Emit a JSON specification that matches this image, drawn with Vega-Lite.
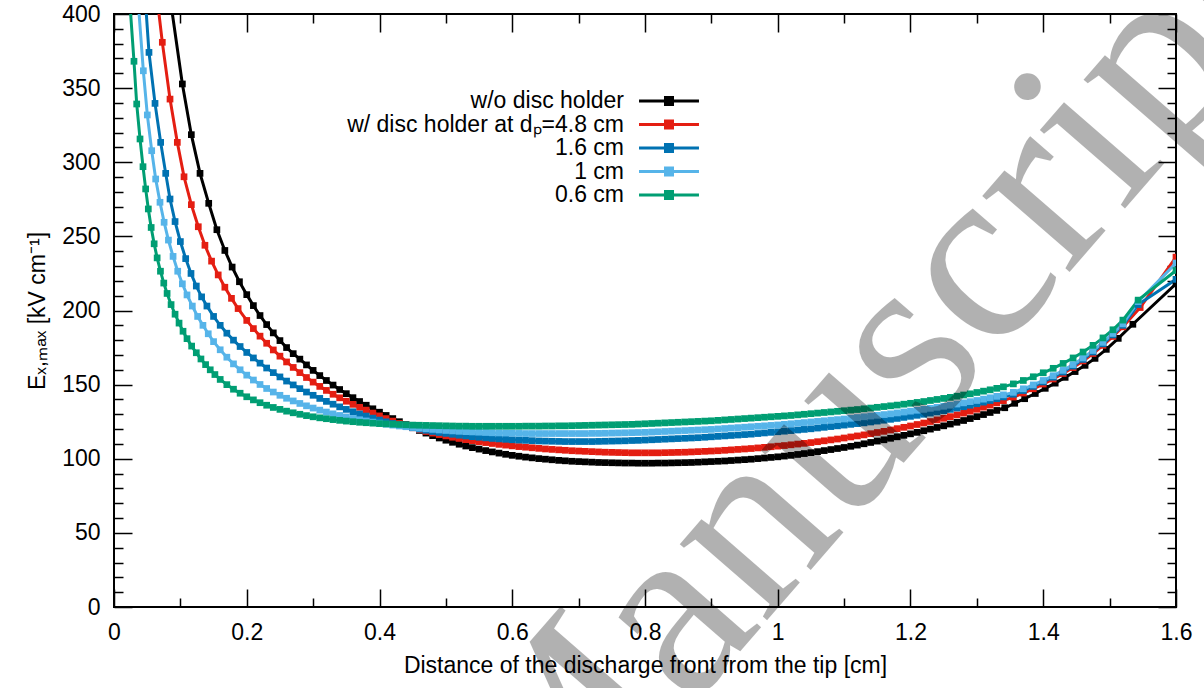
{
"$schema": "https://vega.github.io/schema/vega-lite/v6.json",
"width": 1062,
"height": 593,
"autosize": {"type": "none"},
"padding": {"left": 114, "top": 14, "right": 28, "bottom": 81},
"background": "white",
"config": {
  "view": {"stroke": "#000", "strokeWidth": 2},
  "axis": {"domain": false, "grid": false, "tickColor": "#000", "tickWidth": 1.5, "labelFont": "Liberation Sans", "labelFontSize": 23, "labelColor": "#000", "titleFont": "Liberation Sans", "titleFontSize": 23, "titleFontWeight": "normal", "titleColor": "#000", "labelFlush": false, "labelOverlap": false}
},
"data": {"values": [
{"s":"a","x":0.085,"y":409.4},{"s":"a","x":0.103,"y":352.8},{"s":"a","x":0.1165,"y":318.6},{"s":"a","x":0.1296,"y":292.5},{"s":"a","x":0.1427,"y":272.3},{"s":"a","x":0.155,"y":254.5},{"s":"a","x":0.167,"y":240.5},{"s":"a","x":0.178,"y":229.3},{"s":"a","x":0.189,"y":219.4},{"s":"a","x":0.2,"y":210.7},
{"s":"a","x":0.21,"y":203.3},{"s":"a","x":0.22,"y":196.6},{"s":"a","x":0.23,"y":190.5},{"s":"a","x":0.24,"y":184.9},{"s":"a","x":0.25,"y":179.7},{"s":"a","x":0.26,"y":175.0},{"s":"a","x":0.27,"y":170.9},{"s":"a","x":0.28,"y":167.2},{"s":"a","x":0.29,"y":163.3},{"s":"a","x":0.3,"y":159.6},
{"s":"a","x":0.31,"y":156.1},{"s":"a","x":0.32,"y":152.8},{"s":"a","x":0.33,"y":149.7},{"s":"a","x":0.34,"y":146.7},{"s":"a","x":0.35,"y":143.9},{"s":"a","x":0.36,"y":141.2},{"s":"a","x":0.37,"y":138.6},{"s":"a","x":0.38,"y":136.1},{"s":"a","x":0.39,"y":133.7},{"s":"a","x":0.4,"y":131.4},
{"s":"a","x":0.41,"y":129.2},{"s":"a","x":0.42,"y":127.1},{"s":"a","x":0.43,"y":125.0},{"s":"a","x":0.44,"y":123.0},{"s":"a","x":0.45,"y":121.0},{"s":"a","x":0.46,"y":119.1},{"s":"a","x":0.47,"y":117.3},{"s":"a","x":0.48,"y":115.6},{"s":"a","x":0.49,"y":114.0},{"s":"a","x":0.5,"y":112.5},
{"s":"a","x":0.51,"y":111.1},{"s":"a","x":0.52,"y":109.8},{"s":"a","x":0.53,"y":108.6},{"s":"a","x":0.54,"y":107.5},{"s":"a","x":0.55,"y":106.5},{"s":"a","x":0.56,"y":105.5},{"s":"a","x":0.57,"y":104.6},{"s":"a","x":0.58,"y":103.8},{"s":"a","x":0.59,"y":103.0},{"s":"a","x":0.6,"y":102.3},
{"s":"a","x":0.61,"y":101.7},{"s":"a","x":0.62,"y":101.1},{"s":"a","x":0.63,"y":100.6},{"s":"a","x":0.64,"y":100.1},{"s":"a","x":0.65,"y":99.7},{"s":"a","x":0.66,"y":99.3},{"s":"a","x":0.67,"y":98.9},{"s":"a","x":0.68,"y":98.6},{"s":"a","x":0.69,"y":98.3},{"s":"a","x":0.7,"y":98.1},
{"s":"a","x":0.71,"y":97.9},{"s":"a","x":0.72,"y":97.7},{"s":"a","x":0.73,"y":97.5},{"s":"a","x":0.74,"y":97.4},{"s":"a","x":0.75,"y":97.3},{"s":"a","x":0.76,"y":97.2},{"s":"a","x":0.77,"y":97.1},{"s":"a","x":0.78,"y":97.1},{"s":"a","x":0.79,"y":97.0},{"s":"a","x":0.8,"y":97.0},
{"s":"a","x":0.81,"y":97.0},{"s":"a","x":0.82,"y":97.1},{"s":"a","x":0.83,"y":97.1},{"s":"a","x":0.84,"y":97.2},{"s":"a","x":0.85,"y":97.3},{"s":"a","x":0.86,"y":97.4},{"s":"a","x":0.87,"y":97.5},{"s":"a","x":0.88,"y":97.7},{"s":"a","x":0.89,"y":97.9},{"s":"a","x":0.9,"y":98.1},
{"s":"a","x":0.91,"y":98.3},{"s":"a","x":0.92,"y":98.5},{"s":"a","x":0.93,"y":98.8},{"s":"a","x":0.94,"y":99.1},{"s":"a","x":0.95,"y":99.4},{"s":"a","x":0.96,"y":99.7},{"s":"a","x":0.97,"y":100.1},{"s":"a","x":0.98,"y":100.5},{"s":"a","x":0.99,"y":100.9},{"s":"a","x":1.0,"y":101.3},
{"s":"a","x":1.01,"y":101.8},{"s":"a","x":1.02,"y":102.3},{"s":"a","x":1.03,"y":102.9},{"s":"a","x":1.04,"y":103.5},{"s":"a","x":1.05,"y":104.1},{"s":"a","x":1.06,"y":104.8},{"s":"a","x":1.07,"y":105.5},{"s":"a","x":1.08,"y":106.2},{"s":"a","x":1.09,"y":106.9},{"s":"a","x":1.1,"y":107.6},
{"s":"a","x":1.11,"y":108.4},{"s":"a","x":1.12,"y":109.2},{"s":"a","x":1.13,"y":110.1},{"s":"a","x":1.14,"y":111.0},{"s":"a","x":1.15,"y":111.9},{"s":"a","x":1.16,"y":112.8},{"s":"a","x":1.17,"y":113.8},{"s":"a","x":1.18,"y":114.8},{"s":"a","x":1.19,"y":115.8},{"s":"a","x":1.2,"y":116.8},
{"s":"a","x":1.21,"y":117.8},{"s":"a","x":1.22,"y":118.9},{"s":"a","x":1.23,"y":120.0},{"s":"a","x":1.24,"y":121.1},{"s":"a","x":1.25,"y":122.2},{"s":"a","x":1.26,"y":123.4},{"s":"a","x":1.27,"y":124.6},{"s":"a","x":1.28,"y":125.8},{"s":"a","x":1.29,"y":127.1},{"s":"a","x":1.3,"y":128.4},
{"s":"a","x":1.31,"y":129.8},{"s":"a","x":1.32,"y":131.2},{"s":"a","x":1.33,"y":132.6},{"s":"a","x":1.342,"y":134.4},{"s":"a","x":1.357,"y":137.4},{"s":"a","x":1.372,"y":140.5},{"s":"a","x":1.388,"y":144.0},{"s":"a","x":1.403,"y":147.5},{"s":"a","x":1.418,"y":151.0},{"s":"a","x":1.433,"y":154.9},
{"s":"a","x":1.448,"y":158.8},{"s":"a","x":1.463,"y":163.0},{"s":"a","x":1.478,"y":167.7},{"s":"a","x":1.495,"y":173.8},{"s":"a","x":1.513,"y":181.2},{"s":"a","x":1.535,"y":190.7},{"s":"a","x":1.6,"y":218.0},
{"s":"b","x":0.065,"y":410.7},{"s":"b","x":0.0728,"y":380.9},{"s":"b","x":0.0844,"y":342.6},{"s":"b","x":0.0954,"y":313.4},{"s":"b","x":0.1055,"y":290.2},{"s":"b","x":0.1165,"y":271.4},{"s":"b","x":0.127,"y":256.5},{"s":"b","x":0.137,"y":244.0},{"s":"b","x":0.147,"y":233.3},{"s":"b","x":0.157,"y":224.0},
{"s":"b","x":0.167,"y":215.7},{"s":"b","x":0.177,"y":208.2},{"s":"b","x":0.187,"y":201.3},{"s":"b","x":0.2,"y":193.3},{"s":"b","x":0.21,"y":187.8},{"s":"b","x":0.22,"y":182.7},{"s":"b","x":0.23,"y":177.9},{"s":"b","x":0.24,"y":173.4},{"s":"b","x":0.25,"y":169.2},{"s":"b","x":0.26,"y":165.3},
{"s":"b","x":0.27,"y":161.6},{"s":"b","x":0.28,"y":158.1},{"s":"b","x":0.29,"y":154.8},{"s":"b","x":0.3,"y":151.7},{"s":"b","x":0.31,"y":148.8},{"s":"b","x":0.32,"y":146.1},{"s":"b","x":0.33,"y":143.5},{"s":"b","x":0.34,"y":141.1},{"s":"b","x":0.35,"y":138.8},{"s":"b","x":0.36,"y":136.7},
{"s":"b","x":0.37,"y":134.7},{"s":"b","x":0.38,"y":132.8},{"s":"b","x":0.39,"y":130.8},{"s":"b","x":0.4,"y":128.9},{"s":"b","x":0.41,"y":127.1},{"s":"b","x":0.42,"y":125.4},{"s":"b","x":0.43,"y":123.8},{"s":"b","x":0.44,"y":122.3},{"s":"b","x":0.45,"y":120.9},{"s":"b","x":0.46,"y":119.6},
{"s":"b","x":0.47,"y":118.4},{"s":"b","x":0.48,"y":117.3},{"s":"b","x":0.49,"y":116.3},{"s":"b","x":0.5,"y":115.4},{"s":"b","x":0.51,"y":114.5},{"s":"b","x":0.52,"y":113.7},{"s":"b","x":0.53,"y":112.9},{"s":"b","x":0.54,"y":112.2},{"s":"b","x":0.55,"y":111.5},{"s":"b","x":0.56,"y":110.9},
{"s":"b","x":0.57,"y":110.3},{"s":"b","x":0.58,"y":109.7},{"s":"b","x":0.59,"y":109.2},{"s":"b","x":0.6,"y":108.7},{"s":"b","x":0.61,"y":108.2},{"s":"b","x":0.62,"y":107.8},{"s":"b","x":0.63,"y":107.4},{"s":"b","x":0.64,"y":107.0},{"s":"b","x":0.65,"y":106.6},{"s":"b","x":0.66,"y":106.3},
{"s":"b","x":0.67,"y":106.0},{"s":"b","x":0.68,"y":105.7},{"s":"b","x":0.69,"y":105.4},{"s":"b","x":0.7,"y":105.2},{"s":"b","x":0.71,"y":105.0},{"s":"b","x":0.72,"y":104.8},{"s":"b","x":0.73,"y":104.6},{"s":"b","x":0.74,"y":104.4},{"s":"b","x":0.75,"y":104.3},{"s":"b","x":0.76,"y":104.2},
{"s":"b","x":0.77,"y":104.1},{"s":"b","x":0.78,"y":104.0},{"s":"b","x":0.79,"y":104.0},{"s":"b","x":0.8,"y":104.0},{"s":"b","x":0.81,"y":104.0},{"s":"b","x":0.82,"y":104.0},{"s":"b","x":0.83,"y":104.1},{"s":"b","x":0.84,"y":104.2},{"s":"b","x":0.85,"y":104.3},{"s":"b","x":0.86,"y":104.4},
{"s":"b","x":0.87,"y":104.6},{"s":"b","x":0.88,"y":104.8},{"s":"b","x":0.89,"y":105.0},{"s":"b","x":0.9,"y":105.2},{"s":"b","x":0.91,"y":105.4},{"s":"b","x":0.92,"y":105.7},{"s":"b","x":0.93,"y":106.0},{"s":"b","x":0.94,"y":106.3},{"s":"b","x":0.95,"y":106.6},{"s":"b","x":0.96,"y":106.9},
{"s":"b","x":0.97,"y":107.3},{"s":"b","x":0.98,"y":107.7},{"s":"b","x":0.99,"y":108.1},{"s":"b","x":1.0,"y":108.5},{"s":"b","x":1.01,"y":108.9},{"s":"b","x":1.02,"y":109.4},{"s":"b","x":1.03,"y":109.9},{"s":"b","x":1.04,"y":110.4},{"s":"b","x":1.05,"y":110.9},{"s":"b","x":1.06,"y":111.5},
{"s":"b","x":1.07,"y":112.1},{"s":"b","x":1.08,"y":112.7},{"s":"b","x":1.09,"y":113.3},{"s":"b","x":1.1,"y":114.0},{"s":"b","x":1.11,"y":114.7},{"s":"b","x":1.12,"y":115.4},{"s":"b","x":1.13,"y":116.1},{"s":"b","x":1.14,"y":116.9},{"s":"b","x":1.15,"y":117.7},{"s":"b","x":1.16,"y":118.5},
{"s":"b","x":1.17,"y":119.4},{"s":"b","x":1.18,"y":120.3},{"s":"b","x":1.19,"y":121.2},{"s":"b","x":1.2,"y":122.1},{"s":"b","x":1.21,"y":123.1},{"s":"b","x":1.22,"y":124.1},{"s":"b","x":1.23,"y":125.1},{"s":"b","x":1.24,"y":126.2},{"s":"b","x":1.25,"y":127.3},{"s":"b","x":1.26,"y":128.4},
{"s":"b","x":1.27,"y":129.6},{"s":"b","x":1.28,"y":130.8},{"s":"b","x":1.29,"y":132.1},{"s":"b","x":1.3,"y":133.4},{"s":"b","x":1.31,"y":134.8},{"s":"b","x":1.32,"y":136.2},{"s":"b","x":1.33,"y":137.7},{"s":"b","x":1.34,"y":139.2},{"s":"b","x":1.355,"y":141.6},{"s":"b","x":1.37,"y":144.3},
{"s":"b","x":1.385,"y":147.2},{"s":"b","x":1.4,"y":150.4},{"s":"b","x":1.415,"y":153.8},{"s":"b","x":1.43,"y":157.5},{"s":"b","x":1.445,"y":161.5},{"s":"b","x":1.46,"y":166.0},{"s":"b","x":1.475,"y":171.0},{"s":"b","x":1.49,"y":176.5},{"s":"b","x":1.505,"y":182.5},{"s":"b","x":1.52,"y":189.0},
{"s":"b","x":1.546,"y":202.0},{"s":"b","x":1.6,"y":236.0},
{"s":"c","x":0.047,"y":411.0},{"s":"c","x":0.0527,"y":374.1},{"s":"c","x":0.0618,"y":339.7},{"s":"c","x":0.0703,"y":313.4},{"s":"c","x":0.0779,"y":292.5},{"s":"c","x":0.0844,"y":275.2},{"s":"c","x":0.092,"y":260.0},{"s":"c","x":0.1,"y":246.5},{"s":"c","x":0.108,"y":235.0},{"s":"c","x":0.116,"y":225.0},
{"s":"c","x":0.124,"y":216.5},{"s":"c","x":0.132,"y":209.2},{"s":"c","x":0.14,"y":203.0},{"s":"c","x":0.15,"y":196.0},{"s":"c","x":0.16,"y":190.0},{"s":"c","x":0.17,"y":184.7},{"s":"c","x":0.18,"y":180.0},{"s":"c","x":0.19,"y":175.7},{"s":"c","x":0.2,"y":171.7},{"s":"c","x":0.21,"y":168.0},
{"s":"c","x":0.22,"y":164.5},{"s":"c","x":0.23,"y":161.2},{"s":"c","x":0.24,"y":158.1},{"s":"c","x":0.25,"y":155.2},{"s":"c","x":0.26,"y":152.4},{"s":"c","x":0.27,"y":149.8},{"s":"c","x":0.28,"y":147.3},{"s":"c","x":0.29,"y":145.0},{"s":"c","x":0.3,"y":142.8},{"s":"c","x":0.31,"y":140.7},
{"s":"c","x":0.32,"y":138.7},{"s":"c","x":0.33,"y":136.8},{"s":"c","x":0.34,"y":135.0},{"s":"c","x":0.35,"y":133.3},{"s":"c","x":0.36,"y":131.7},{"s":"c","x":0.37,"y":130.2},{"s":"c","x":0.38,"y":128.8},{"s":"c","x":0.39,"y":127.4},{"s":"c","x":0.4,"y":126.1},{"s":"c","x":0.41,"y":124.9},
{"s":"c","x":0.42,"y":123.8},{"s":"c","x":0.43,"y":122.8},{"s":"c","x":0.44,"y":121.8},{"s":"c","x":0.45,"y":120.9},{"s":"c","x":0.46,"y":120.0},{"s":"c","x":0.47,"y":119.2},{"s":"c","x":0.48,"y":118.4},{"s":"c","x":0.49,"y":117.7},{"s":"c","x":0.5,"y":117.1},{"s":"c","x":0.51,"y":116.5},
{"s":"c","x":0.52,"y":115.9},{"s":"c","x":0.53,"y":115.4},{"s":"c","x":0.54,"y":114.9},{"s":"c","x":0.55,"y":114.5},{"s":"c","x":0.56,"y":114.1},{"s":"c","x":0.57,"y":113.7},{"s":"c","x":0.58,"y":113.4},{"s":"c","x":0.59,"y":113.1},{"s":"c","x":0.6,"y":112.8},{"s":"c","x":0.61,"y":112.6},
{"s":"c","x":0.62,"y":112.4},{"s":"c","x":0.63,"y":112.2},{"s":"c","x":0.64,"y":112.0},{"s":"c","x":0.65,"y":111.9},{"s":"c","x":0.66,"y":111.8},{"s":"c","x":0.67,"y":111.7},{"s":"c","x":0.68,"y":111.6},{"s":"c","x":0.69,"y":111.6},{"s":"c","x":0.7,"y":111.6},{"s":"c","x":0.71,"y":111.6},
{"s":"c","x":0.72,"y":111.6},{"s":"c","x":0.73,"y":111.7},{"s":"c","x":0.74,"y":111.8},{"s":"c","x":0.75,"y":111.9},{"s":"c","x":0.76,"y":112.0},{"s":"c","x":0.77,"y":112.1},{"s":"c","x":0.78,"y":112.3},{"s":"c","x":0.79,"y":112.4},{"s":"c","x":0.8,"y":112.6},{"s":"c","x":0.81,"y":112.8},
{"s":"c","x":0.82,"y":113.0},{"s":"c","x":0.83,"y":113.2},{"s":"c","x":0.84,"y":113.4},{"s":"c","x":0.85,"y":113.6},{"s":"c","x":0.86,"y":113.8},{"s":"c","x":0.87,"y":114.0},{"s":"c","x":0.88,"y":114.2},{"s":"c","x":0.89,"y":114.5},{"s":"c","x":0.9,"y":114.8},{"s":"c","x":0.91,"y":115.1},
{"s":"c","x":0.92,"y":115.4},{"s":"c","x":0.93,"y":115.7},{"s":"c","x":0.94,"y":116.0},{"s":"c","x":0.95,"y":116.3},{"s":"c","x":0.96,"y":116.6},{"s":"c","x":0.97,"y":117.0},{"s":"c","x":0.98,"y":117.4},{"s":"c","x":0.99,"y":117.8},{"s":"c","x":1.0,"y":118.2},{"s":"c","x":1.01,"y":118.6},
{"s":"c","x":1.02,"y":119.0},{"s":"c","x":1.03,"y":119.4},{"s":"c","x":1.04,"y":119.8},{"s":"c","x":1.05,"y":120.2},{"s":"c","x":1.06,"y":120.7},{"s":"c","x":1.07,"y":121.2},{"s":"c","x":1.08,"y":121.7},{"s":"c","x":1.09,"y":122.2},{"s":"c","x":1.1,"y":122.7},{"s":"c","x":1.11,"y":123.2},
{"s":"c","x":1.12,"y":123.7},{"s":"c","x":1.13,"y":124.2},{"s":"c","x":1.14,"y":124.8},{"s":"c","x":1.15,"y":125.4},{"s":"c","x":1.16,"y":126.0},{"s":"c","x":1.17,"y":126.6},{"s":"c","x":1.18,"y":127.2},{"s":"c","x":1.19,"y":127.9},{"s":"c","x":1.2,"y":128.6},{"s":"c","x":1.21,"y":129.3},
{"s":"c","x":1.22,"y":130.0},{"s":"c","x":1.23,"y":130.8},{"s":"c","x":1.24,"y":131.6},{"s":"c","x":1.25,"y":132.4},{"s":"c","x":1.26,"y":133.3},{"s":"c","x":1.27,"y":134.2},{"s":"c","x":1.28,"y":135.1},{"s":"c","x":1.29,"y":136.1},{"s":"c","x":1.3,"y":137.1},{"s":"c","x":1.31,"y":138.2},
{"s":"c","x":1.32,"y":139.3},{"s":"c","x":1.33,"y":140.5},{"s":"c","x":1.34,"y":141.7},{"s":"c","x":1.355,"y":143.5},{"s":"c","x":1.37,"y":146.0},{"s":"c","x":1.385,"y":148.8},{"s":"c","x":1.4,"y":151.8},{"s":"c","x":1.415,"y":155.0},{"s":"c","x":1.43,"y":158.5},{"s":"c","x":1.445,"y":162.5},
{"s":"c","x":1.46,"y":167.0},{"s":"c","x":1.475,"y":172.0},{"s":"c","x":1.49,"y":177.5},{"s":"c","x":1.505,"y":183.5},{"s":"c","x":1.52,"y":190.0},{"s":"c","x":1.543,"y":204.0},{"s":"c","x":1.6,"y":221.0},
{"s":"d","x":0.0365,"y":408.0},{"s":"d","x":0.0442,"y":361.7},{"s":"d","x":0.0502,"y":331.9},{"s":"d","x":0.0568,"y":307.8},{"s":"d","x":0.0628,"y":288.7},{"s":"d","x":0.0693,"y":273.0},{"s":"d","x":0.0755,"y":259.5},{"s":"d","x":0.082,"y":247.5},{"s":"d","x":0.089,"y":236.5},{"s":"d","x":0.096,"y":226.5},
{"s":"d","x":0.103,"y":218.0},{"s":"d","x":0.11,"y":210.5},{"s":"d","x":0.118,"y":203.0},{"s":"d","x":0.126,"y":196.0},{"s":"d","x":0.134,"y":190.0},{"s":"d","x":0.142,"y":184.3},{"s":"d","x":0.15,"y":179.0},{"s":"d","x":0.16,"y":173.5},{"s":"d","x":0.17,"y":168.5},{"s":"d","x":0.18,"y":164.0},
{"s":"d","x":0.19,"y":160.0},{"s":"d","x":0.2,"y":156.4},{"s":"d","x":0.21,"y":153.1},{"s":"d","x":0.22,"y":150.1},{"s":"d","x":0.23,"y":147.4},{"s":"d","x":0.24,"y":145.0},{"s":"d","x":0.25,"y":142.8},{"s":"d","x":0.26,"y":140.8},{"s":"d","x":0.27,"y":139.0},{"s":"d","x":0.28,"y":137.3},
{"s":"d","x":0.29,"y":135.7},{"s":"d","x":0.3,"y":134.2},{"s":"d","x":0.31,"y":132.8},{"s":"d","x":0.32,"y":131.5},{"s":"d","x":0.33,"y":130.3},{"s":"d","x":0.34,"y":129.2},{"s":"d","x":0.35,"y":128.2},{"s":"d","x":0.36,"y":127.2},{"s":"d","x":0.37,"y":126.3},{"s":"d","x":0.38,"y":125.5},
{"s":"d","x":0.39,"y":124.7},{"s":"d","x":0.4,"y":124.0},{"s":"d","x":0.41,"y":123.3},{"s":"d","x":0.42,"y":122.7},{"s":"d","x":0.43,"y":122.1},{"s":"d","x":0.44,"y":121.6},{"s":"d","x":0.45,"y":121.1},{"s":"d","x":0.46,"y":120.6},{"s":"d","x":0.47,"y":120.2},{"s":"d","x":0.48,"y":119.8},
{"s":"d","x":0.49,"y":119.4},{"s":"d","x":0.5,"y":119.1},{"s":"d","x":0.51,"y":118.8},{"s":"d","x":0.52,"y":118.5},{"s":"d","x":0.53,"y":118.3},{"s":"d","x":0.54,"y":118.1},{"s":"d","x":0.55,"y":117.9},{"s":"d","x":0.56,"y":117.7},{"s":"d","x":0.57,"y":117.5},{"s":"d","x":0.58,"y":117.4},
{"s":"d","x":0.59,"y":117.3},{"s":"d","x":0.6,"y":117.2},{"s":"d","x":0.61,"y":117.1},{"s":"d","x":0.62,"y":117.0},{"s":"d","x":0.63,"y":117.0},{"s":"d","x":0.64,"y":117.0},{"s":"d","x":0.65,"y":117.0},{"s":"d","x":0.66,"y":117.0},{"s":"d","x":0.67,"y":117.0},{"s":"d","x":0.68,"y":117.0},
{"s":"d","x":0.69,"y":117.0},{"s":"d","x":0.7,"y":117.0},{"s":"d","x":0.71,"y":117.0},{"s":"d","x":0.72,"y":117.1},{"s":"d","x":0.73,"y":117.1},{"s":"d","x":0.74,"y":117.2},{"s":"d","x":0.75,"y":117.3},{"s":"d","x":0.76,"y":117.4},{"s":"d","x":0.77,"y":117.5},{"s":"d","x":0.78,"y":117.6},
{"s":"d","x":0.79,"y":117.7},{"s":"d","x":0.8,"y":117.8},{"s":"d","x":0.81,"y":118.0},{"s":"d","x":0.82,"y":118.2},{"s":"d","x":0.83,"y":118.4},{"s":"d","x":0.84,"y":118.6},{"s":"d","x":0.85,"y":118.8},{"s":"d","x":0.86,"y":119.0},{"s":"d","x":0.87,"y":119.2},{"s":"d","x":0.88,"y":119.4},
{"s":"d","x":0.89,"y":119.6},{"s":"d","x":0.9,"y":119.8},{"s":"d","x":0.91,"y":120.1},{"s":"d","x":0.92,"y":120.4},{"s":"d","x":0.93,"y":120.7},{"s":"d","x":0.94,"y":121.0},{"s":"d","x":0.95,"y":121.3},{"s":"d","x":0.96,"y":121.6},{"s":"d","x":0.97,"y":121.9},{"s":"d","x":0.98,"y":122.2},
{"s":"d","x":0.99,"y":122.5},{"s":"d","x":1.0,"y":122.8},{"s":"d","x":1.01,"y":123.2},{"s":"d","x":1.02,"y":123.6},{"s":"d","x":1.03,"y":124.0},{"s":"d","x":1.04,"y":124.4},{"s":"d","x":1.05,"y":124.8},{"s":"d","x":1.06,"y":125.2},{"s":"d","x":1.07,"y":125.6},{"s":"d","x":1.08,"y":126.0},
{"s":"d","x":1.09,"y":126.4},{"s":"d","x":1.1,"y":126.8},{"s":"d","x":1.11,"y":127.3},{"s":"d","x":1.12,"y":127.8},{"s":"d","x":1.13,"y":128.3},{"s":"d","x":1.14,"y":128.8},{"s":"d","x":1.15,"y":129.3},{"s":"d","x":1.16,"y":129.8},{"s":"d","x":1.17,"y":130.3},{"s":"d","x":1.18,"y":130.9},
{"s":"d","x":1.19,"y":131.5},{"s":"d","x":1.2,"y":132.1},{"s":"d","x":1.21,"y":132.7},{"s":"d","x":1.22,"y":133.3},{"s":"d","x":1.23,"y":134.0},{"s":"d","x":1.24,"y":134.7},{"s":"d","x":1.25,"y":135.4},{"s":"d","x":1.26,"y":136.1},{"s":"d","x":1.27,"y":136.9},{"s":"d","x":1.28,"y":137.7},
{"s":"d","x":1.29,"y":138.5},{"s":"d","x":1.3,"y":139.3},{"s":"d","x":1.31,"y":140.2},{"s":"d","x":1.32,"y":141.1},{"s":"d","x":1.33,"y":142.1},{"s":"d","x":1.34,"y":143.1},{"s":"d","x":1.355,"y":144.8},{"s":"d","x":1.37,"y":147.2},{"s":"d","x":1.385,"y":149.8},{"s":"d","x":1.4,"y":152.8},
{"s":"d","x":1.415,"y":156.0},{"s":"d","x":1.43,"y":159.6},{"s":"d","x":1.445,"y":163.5},{"s":"d","x":1.46,"y":168.0},{"s":"d","x":1.475,"y":173.0},{"s":"d","x":1.49,"y":178.5},{"s":"d","x":1.505,"y":184.5},{"s":"d","x":1.52,"y":191.0},{"s":"d","x":1.543,"y":206.0},{"s":"d","x":1.6,"y":232.0},
{"s":"e","x":0.0235,"y":410.2},{"s":"e","x":0.0301,"y":368.1},{"s":"e","x":0.0342,"y":339.3},{"s":"e","x":0.0392,"y":315.7},{"s":"e","x":0.0437,"y":297.0},{"s":"e","x":0.0477,"y":282.0},{"s":"e","x":0.0517,"y":268.5},{"s":"e","x":0.056,"y":256.0},{"s":"e","x":0.0605,"y":245.0},{"s":"e","x":0.065,"y":235.5},
{"s":"e","x":0.07,"y":226.5},{"s":"e","x":0.075,"y":218.5},{"s":"e","x":0.08,"y":211.5},{"s":"e","x":0.086,"y":204.0},{"s":"e","x":0.092,"y":197.5},{"s":"e","x":0.098,"y":191.5},{"s":"e","x":0.104,"y":186.0},{"s":"e","x":0.11,"y":181.0},{"s":"e","x":0.117,"y":176.0},{"s":"e","x":0.124,"y":171.5},
{"s":"e","x":0.131,"y":167.3},{"s":"e","x":0.138,"y":163.5},{"s":"e","x":0.145,"y":160.0},{"s":"e","x":0.152,"y":156.8},{"s":"e","x":0.16,"y":153.5},{"s":"e","x":0.17,"y":150.0},{"s":"e","x":0.18,"y":146.9},{"s":"e","x":0.19,"y":144.2},{"s":"e","x":0.2,"y":141.8},{"s":"e","x":0.21,"y":139.7},
{"s":"e","x":0.22,"y":137.8},{"s":"e","x":0.23,"y":136.1},{"s":"e","x":0.24,"y":134.6},{"s":"e","x":0.25,"y":133.3},{"s":"e","x":0.26,"y":132.1},{"s":"e","x":0.27,"y":131.0},{"s":"e","x":0.28,"y":130.0},{"s":"e","x":0.29,"y":129.1},{"s":"e","x":0.3,"y":128.3},{"s":"e","x":0.31,"y":127.6},
{"s":"e","x":0.32,"y":127.0},{"s":"e","x":0.33,"y":126.4},{"s":"e","x":0.34,"y":125.9},{"s":"e","x":0.35,"y":125.4},{"s":"e","x":0.36,"y":125.0},{"s":"e","x":0.37,"y":124.6},{"s":"e","x":0.38,"y":124.3},{"s":"e","x":0.39,"y":124.0},{"s":"e","x":0.4,"y":123.7},{"s":"e","x":0.41,"y":123.5},
{"s":"e","x":0.42,"y":123.3},{"s":"e","x":0.43,"y":123.1},{"s":"e","x":0.44,"y":122.9},{"s":"e","x":0.45,"y":122.7},{"s":"e","x":0.46,"y":122.6},{"s":"e","x":0.47,"y":122.5},{"s":"e","x":0.48,"y":122.4},{"s":"e","x":0.49,"y":122.3},{"s":"e","x":0.5,"y":122.2},{"s":"e","x":0.51,"y":122.1},
{"s":"e","x":0.52,"y":122.0},{"s":"e","x":0.53,"y":122.0},{"s":"e","x":0.54,"y":121.9},{"s":"e","x":0.55,"y":121.9},{"s":"e","x":0.56,"y":121.9},{"s":"e","x":0.57,"y":121.9},{"s":"e","x":0.58,"y":121.9},{"s":"e","x":0.59,"y":121.9},{"s":"e","x":0.6,"y":121.9},{"s":"e","x":0.61,"y":121.9},
{"s":"e","x":0.62,"y":122.0},{"s":"e","x":0.63,"y":122.0},{"s":"e","x":0.64,"y":122.0},{"s":"e","x":0.65,"y":122.1},{"s":"e","x":0.66,"y":122.1},{"s":"e","x":0.67,"y":122.2},{"s":"e","x":0.68,"y":122.2},{"s":"e","x":0.69,"y":122.3},{"s":"e","x":0.7,"y":122.4},{"s":"e","x":0.71,"y":122.5},
{"s":"e","x":0.72,"y":122.6},{"s":"e","x":0.73,"y":122.7},{"s":"e","x":0.74,"y":122.8},{"s":"e","x":0.75,"y":122.9},{"s":"e","x":0.76,"y":123.0},{"s":"e","x":0.77,"y":123.1},{"s":"e","x":0.78,"y":123.2},{"s":"e","x":0.79,"y":123.4},{"s":"e","x":0.8,"y":123.6},{"s":"e","x":0.81,"y":123.8},
{"s":"e","x":0.82,"y":124.0},{"s":"e","x":0.83,"y":124.2},{"s":"e","x":0.84,"y":124.4},{"s":"e","x":0.85,"y":124.6},{"s":"e","x":0.86,"y":124.8},{"s":"e","x":0.87,"y":125.0},{"s":"e","x":0.88,"y":125.2},{"s":"e","x":0.89,"y":125.4},{"s":"e","x":0.9,"y":125.6},{"s":"e","x":0.91,"y":125.9},
{"s":"e","x":0.92,"y":126.2},{"s":"e","x":0.93,"y":126.5},{"s":"e","x":0.94,"y":126.8},{"s":"e","x":0.95,"y":127.1},{"s":"e","x":0.96,"y":127.4},{"s":"e","x":0.97,"y":127.7},{"s":"e","x":0.98,"y":128.0},{"s":"e","x":0.99,"y":128.3},{"s":"e","x":1.0,"y":128.6},{"s":"e","x":1.01,"y":128.9},
{"s":"e","x":1.02,"y":129.2},{"s":"e","x":1.03,"y":129.6},{"s":"e","x":1.04,"y":130.0},{"s":"e","x":1.05,"y":130.4},{"s":"e","x":1.06,"y":130.8},{"s":"e","x":1.07,"y":131.2},{"s":"e","x":1.08,"y":131.6},{"s":"e","x":1.09,"y":132.0},{"s":"e","x":1.1,"y":132.4},{"s":"e","x":1.11,"y":132.8},
{"s":"e","x":1.12,"y":133.2},{"s":"e","x":1.13,"y":133.7},{"s":"e","x":1.14,"y":134.2},{"s":"e","x":1.15,"y":134.7},{"s":"e","x":1.16,"y":135.2},{"s":"e","x":1.17,"y":135.7},{"s":"e","x":1.18,"y":136.2},{"s":"e","x":1.19,"y":136.8},{"s":"e","x":1.2,"y":137.4},{"s":"e","x":1.21,"y":138.0},
{"s":"e","x":1.22,"y":138.6},{"s":"e","x":1.23,"y":139.3},{"s":"e","x":1.24,"y":140.0},{"s":"e","x":1.25,"y":140.7},{"s":"e","x":1.26,"y":141.4},{"s":"e","x":1.27,"y":142.2},{"s":"e","x":1.28,"y":143.0},{"s":"e","x":1.29,"y":143.8},{"s":"e","x":1.3,"y":144.7},{"s":"e","x":1.31,"y":145.6},
{"s":"e","x":1.32,"y":146.5},{"s":"e","x":1.33,"y":147.5},{"s":"e","x":1.34,"y":148.5},{"s":"e","x":1.355,"y":150.5},{"s":"e","x":1.37,"y":152.8},{"s":"e","x":1.385,"y":155.3},{"s":"e","x":1.4,"y":158.0},{"s":"e","x":1.415,"y":161.0},{"s":"e","x":1.43,"y":164.3},{"s":"e","x":1.445,"y":168.0},
{"s":"e","x":1.46,"y":172.0},{"s":"e","x":1.475,"y":176.5},{"s":"e","x":1.49,"y":181.5},{"s":"e","x":1.505,"y":187.0},{"s":"e","x":1.52,"y":193.5},{"s":"e","x":1.543,"y":207.0},{"s":"e","x":1.6,"y":227.0}
]},
"layer": [
  {
    "mark": {"type": "line", "strokeWidth": 3, "clip": true, "point": {"shape": "square", "size": 45, "filled": true, "opacity": 1, "clip": true}},
    "encoding": {
      "x": {"field": "x", "type": "quantitative", "scale": {"domain": [0, 1.6], "nice": false, "zero": false},
            "axis": {"orient": "bottom", "values": [0, 0.2, 0.4, 0.6, 0.8, 1, 1.2, 1.4, 1.6], "format": "~g", "ticks": false, "labelPadding": 14, "title": "Distance of the discharge front from the tip [cm]", "titlePadding": 10}},
      "y": {"field": "y", "type": "quantitative", "scale": {"domain": [0, 400], "nice": false, "zero": false},
            "axis": {"orient": "left", "values": [0, 50, 100, 150, 200, 250, 300, 350, 400], "ticks": false, "labelPadding": 14, "title": "Eₓ,ₘₐₓ [kV cm⁻¹]", "titlePadding": 12}},
      "color": {"field": "s", "type": "nominal",
        "scale": {"domain": ["a", "b", "c", "d", "e"], "range": ["#000000", "#e41e12", "#0072b2", "#56b4e9", "#009e73"]},
        "legend": {"orient": "none", "legendX": 523, "legendY": 77, "direction": "vertical", "title": null,
          "labelExpr": "{'a': 'w/o disc holder', 'b': 'w/ disc holder at dₚ=4.8 cm', 'c': '1.6 cm', 'd': '1 cm', 'e': '0.6 cm'}[datum.value]",
          "symbolType": "M-1.62,0H1.62M-0.19,-0.19H0.19V0.19H-0.19Z", "symbolSize": 1369, "symbolStrokeWidth": 3, "symbolOffset": 12,
          "labelFont": "Liberation Sans", "labelFontSize": 23, "labelColor": "#000", "labelAlign": "right", "labelOffset": -65, "labelLimit": 0,
          "clipHeight": 20, "rowPadding": 0.5, "padding": 0,
          "encode": {
            "symbols": {"update": {"fill": {"scale": "color", "field": "value"}}},
            "entries": {"update": {"width": {"value": 100}}}
          }}}
    }
  },
  {
    "mark": {"type": "line", "strokeOpacity": 0},
    "encoding": {
      "x": {"field": "x", "type": "quantitative", "axis": {"orient": "bottom", "values": [0, 0.2, 0.4, 0.6, 0.8, 1, 1.2, 1.4, 1.6], "labels": false, "tickSize": -18, "title": null}},
      "y": {"field": "y", "type": "quantitative", "axis": {"orient": "left", "values": [0, 50, 100, 150, 200, 250, 300, 350, 400], "labels": false, "tickSize": -18, "title": null}},
      "detail": {"field": "s"}
    }
  },
  {
    "mark": {"type": "line", "strokeOpacity": 0},
    "encoding": {
      "x": {"field": "x", "type": "quantitative", "axis": {"orient": "bottom", "values": [0.1, 0.3, 0.5, 0.7, 0.9, 1.1, 1.3, 1.5], "labels": false, "tickSize": -9, "title": null}},
      "y": {"field": "y", "type": "quantitative", "axis": {"orient": "left", "values": [10, 20, 30, 40, 60, 70, 80, 90, 110, 120, 130, 140, 160, 170, 180, 190, 210, 220, 230, 240, 260, 270, 280, 290, 310, 320, 330, 340, 360, 370, 380, 390], "labels": false, "tickSize": -9, "title": null}},
      "detail": {"field": "s"}
    }
  },
  {
    "mark": {"type": "line", "strokeOpacity": 0},
    "encoding": {
      "x": {"field": "x", "type": "quantitative", "axis": {"orient": "top", "values": [0, 0.2, 0.4, 0.6, 0.8, 1, 1.2, 1.4, 1.6], "labels": false, "tickSize": -18, "title": null}},
      "y": {"field": "y", "type": "quantitative", "axis": {"orient": "right", "values": [0, 50, 100, 150, 200, 250, 300, 350, 400], "labels": false, "tickSize": -18, "title": null}},
      "detail": {"field": "s"}
    }
  },
  {
    "mark": {"type": "line", "strokeOpacity": 0},
    "encoding": {
      "x": {"field": "x", "type": "quantitative", "axis": {"orient": "top", "values": [0.1, 0.3, 0.5, 0.7, 0.9, 1.1, 1.3, 1.5], "labels": false, "tickSize": -9, "title": null}},
      "y": {"field": "y", "type": "quantitative", "axis": {"orient": "right", "values": [10, 20, 30, 40, 60, 70, 80, 90, 110, 120, 130, 140, 160, 170, 180, 190, 210, 220, 230, 240, 260, 270, 280, 290, 310, 320, 330, 340, 360, 370, 380, 390], "labels": false, "tickSize": -9, "title": null}},
      "detail": {"field": "s"}
    }
  },
  {
    "data": {"values": [{"t": "Manuscript"}]},
    "mark": {"type": "text", "font": "Liberation Serif", "fontSize": 252, "angle": -49, "align": "center", "baseline": "middle", "color": "#000", "opacity": 0.3, "clip": false},
    "encoding": {
      "text": {"field": "t"},
      "x": {"datum": 1.127, "type": "quantitative", "axis": null},
      "y": {"datum": 143, "type": "quantitative", "axis": null}
    }
  }
],
"resolve": {"axis": {"x": "independent", "y": "independent"}}
}
